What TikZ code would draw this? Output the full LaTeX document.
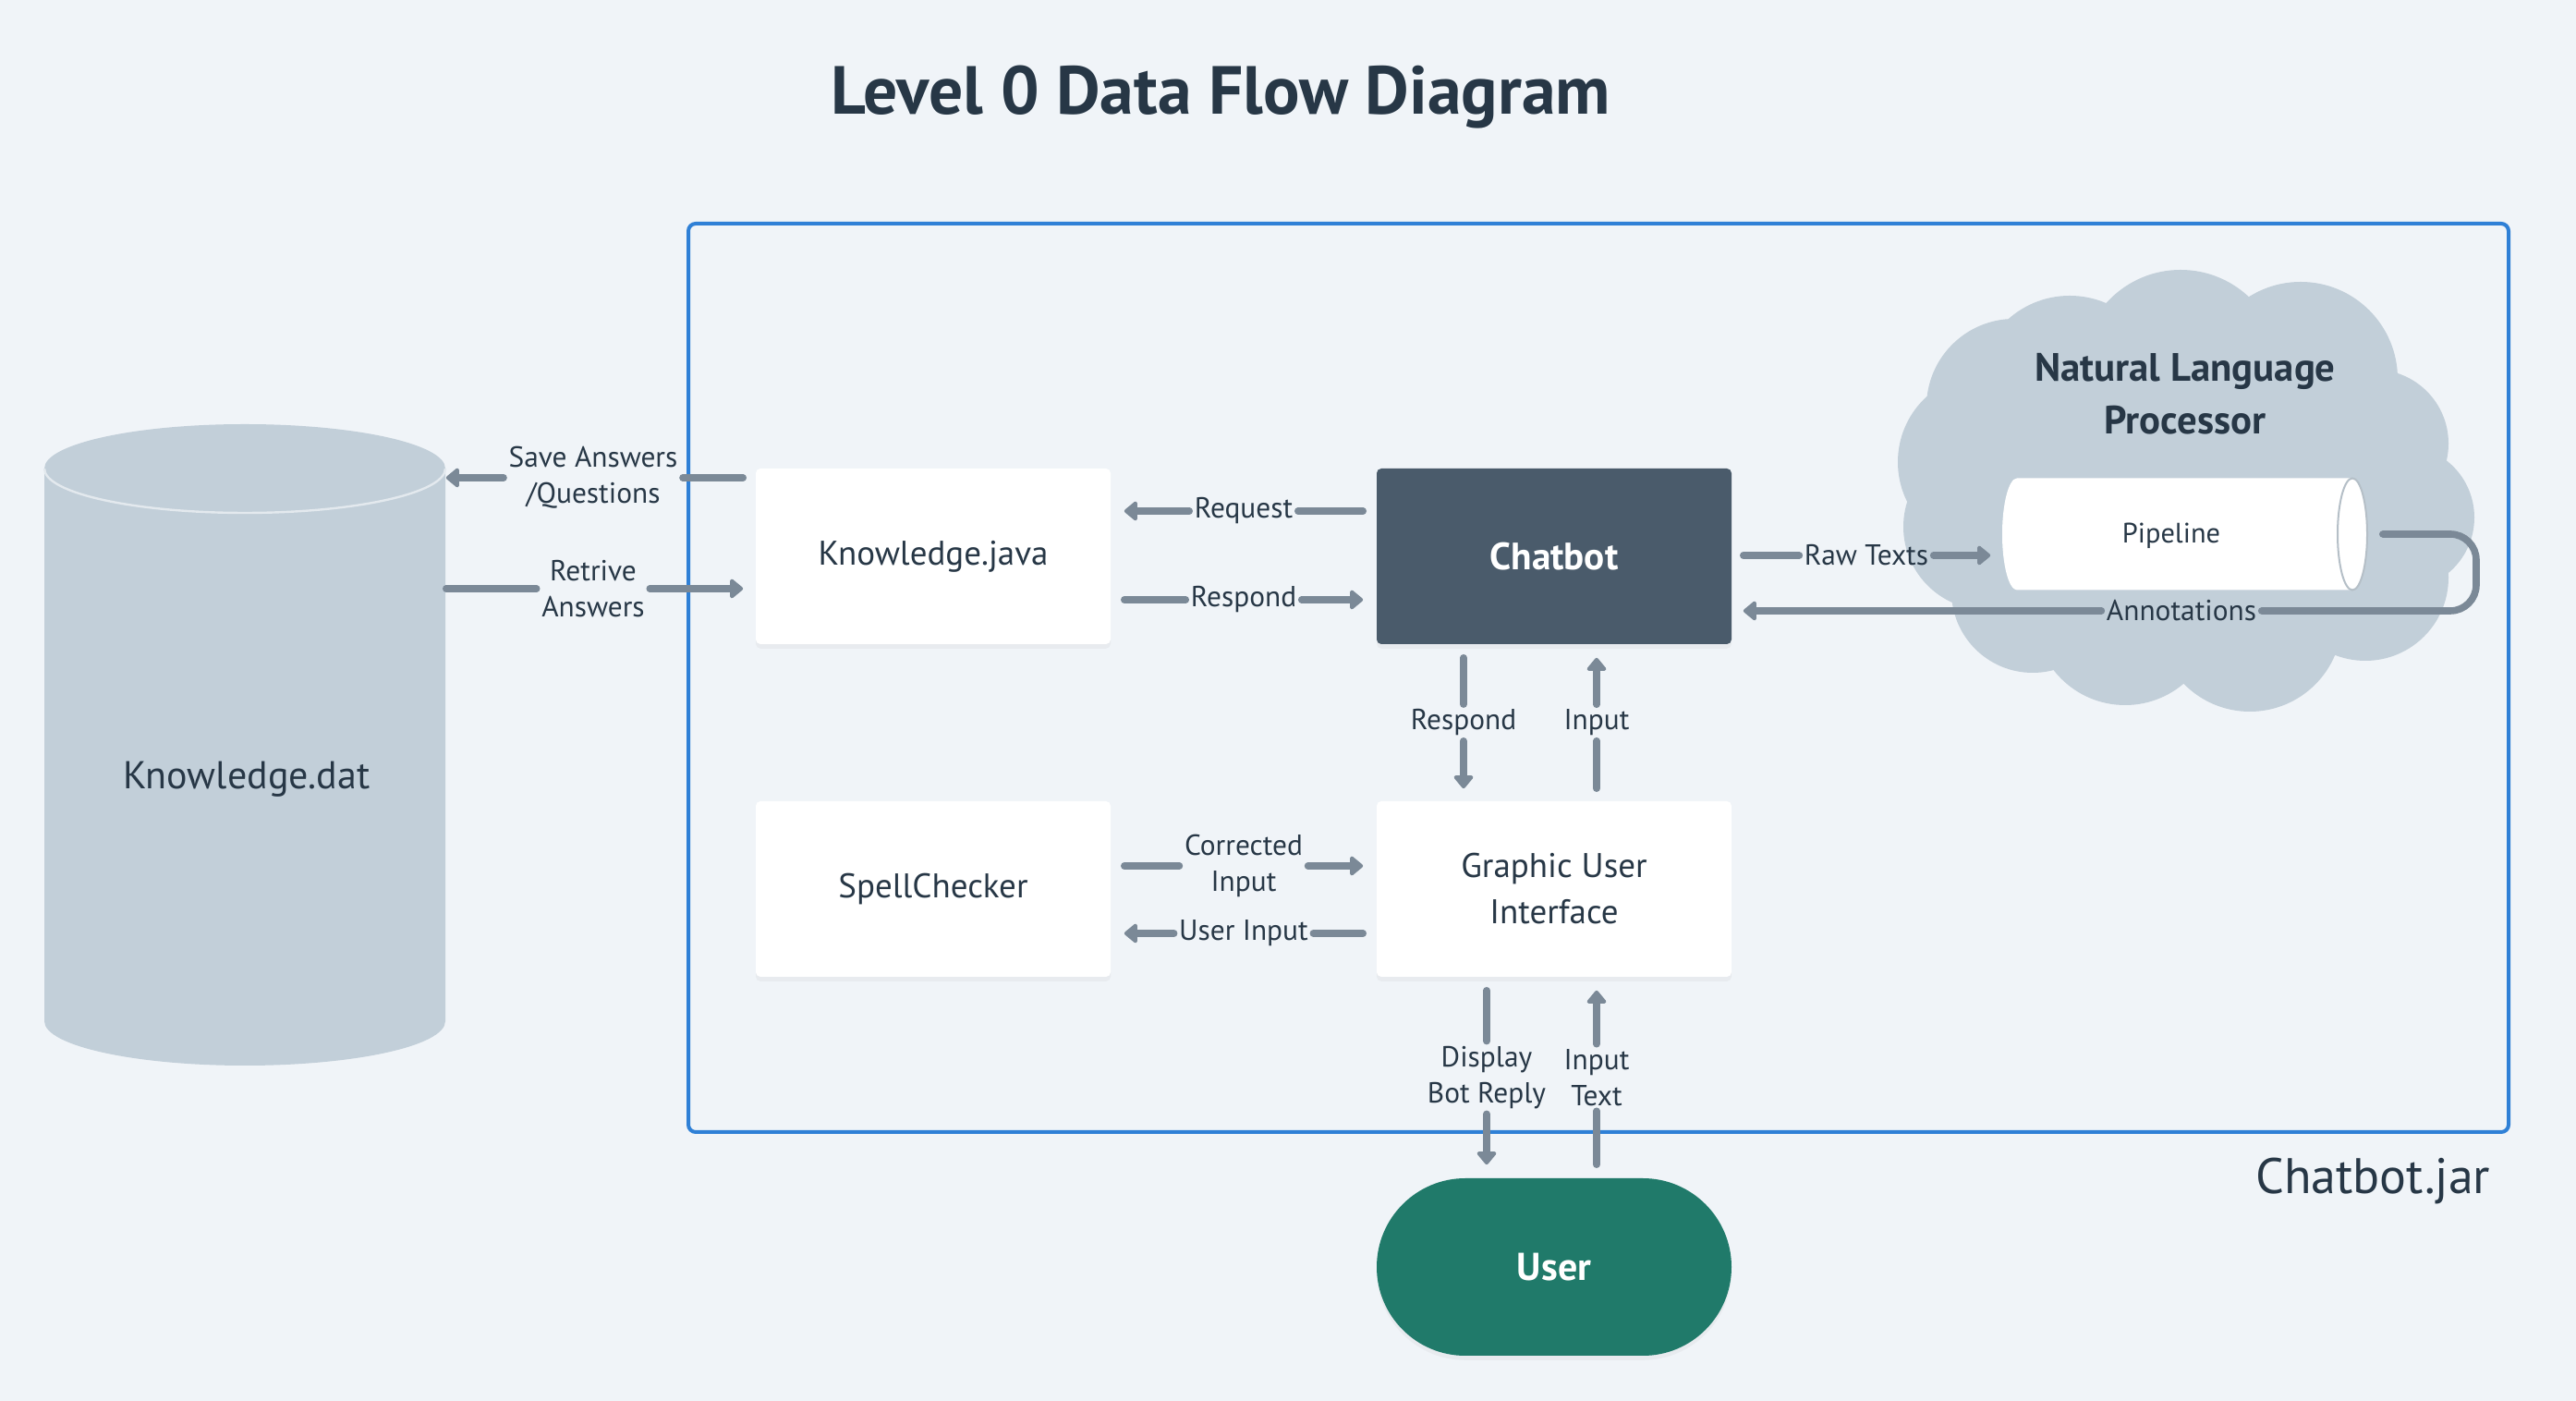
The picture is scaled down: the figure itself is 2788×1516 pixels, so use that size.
\documentclass[tikz,border=0pt]{standalone}
\usepackage{fontspec}
\setmainfont{PT Sans}
\usetikzlibrary{arrows.meta,calc,shadows}
\definecolor{bg}{HTML}{F0F4F8}
\definecolor{ink}{HTML}{273746}
\definecolor{flowc}{HTML}{7B8997}
\definecolor{cylc}{HTML}{C2CFD9}
\definecolor{chatc}{HTML}{4A5B6B}
\definecolor{userc}{HTML}{207A6A}
\definecolor{framec}{HTML}{2F80D6}
\tikzset{
  box/.style={rectangle, rounded corners=1.25pt, minimum width=96pt, minimum height=47.5pt,
    inner sep=0pt, align=center, font=\fontsize{9.25}{12.5}\selectfont, text=ink, fill=white,
    drop shadow={opacity=0.07, shadow xshift=0pt, shadow yshift=-1.2pt}},
  lbl/.style={inner sep=1.2pt, align=center, font=\fontsize{7.85}{9.75}\selectfont, text=ink},
  flowline/.style={draw=flowc, line width=1.9pt, line cap=round},
  flowarrow/.style={flowline, -{Triangle[width=6pt,length=3.8pt,round,line width=1pt]}},
}
\begin{document}
\begin{tikzpicture}[x=0.25pt,y=0.25pt]
\fill[bg] (0,0) rectangle (2788,-1516);
\useasboundingbox (0,0) rectangle (2788,-1516);

% title
\node[anchor=base, inner sep=0pt, font=\fontsize{18.4}{20}\selectfont\bfseries, text=ink] (title) at (1321,-124) {Level 0 Data Flow Diagram};

% frame
\draw[framec, line width=1pt, rounded corners=2pt] (745,-242) rectangle (2715,-1225);
\node[anchor=base east, inner sep=0pt, font=\fontsize{13.5}{15}\selectfont, text=ink] (jar) at (2696,-1292) {Chatbot.jar};

% Knowledge.dat cylinder
\fill[cylc] (48,-507) -- (48,-1105) arc[start angle=180,end angle=360,x radius=54.25pt,y radius=12pt]
  -- (482,-507) arc[start angle=0,end angle=180,x radius=54.25pt,y radius=12pt] -- cycle;
\draw[white!55!cylc, line width=0.6pt] (48,-507) arc[start angle=180,end angle=360,x radius=54.25pt,y radius=12pt];
\node[minimum width=108.5pt, minimum height=173.75pt, inner sep=0pt] (kdat) at (265,-806) {};
\node[font=\fontsize{10.5}{12}\selectfont, text=ink] (kdattxt) at (267,-843) {Knowledge.dat};

% cloud
\fill[cylc]
  (2240,-420) circle[radius=25pt]
  (2360,-400) circle[radius=27pt]
  (2490,-410) circle[radius=26.25pt]
  (2570,-480) circle[radius=20pt]
  (2600,-560) circle[radius=19.5pt]
  (2560,-625) circle[radius=22.5pt]
  (2435,-670) circle[radius=25pt]
  (2300,-665) circle[radius=24.5pt]
  (2200,-640) circle[radius=22pt]
  (2150,-570) circle[radius=22.5pt]
  (2150,-500) circle[radius=24pt]
  (2180,-440) circle[radius=23.75pt]
  (2370,-530) ellipse[x radius=50pt,y radius=40pt];
\node[align=center, font=\fontsize{10.7}{14.25}\selectfont\bfseries, text=ink] (nlp) at (2365,-426) {Natural Language\\Processor};

% pipeline
\fill[white] (2183,-517.5) -- (2546,-517.5) arc[start angle=90,end angle=-90,x radius=4pt,y radius=15.125pt]
  -- (2183,-638.5) arc[start angle=270,end angle=90,x radius=4pt,y radius=15.125pt] -- cycle;
\draw[cylc!80!gray, line width=0.5pt] (2546,-578) ellipse[x radius=4pt,y radius=15.125pt];
\node[minimum width=98.75pt, minimum height=30.25pt, inner sep=0pt] (pipe) at (2364.5,-578) {};
\node[font=\fontsize{7.6}{9}\selectfont, text=ink] (pipetxt) at (2350,-580) {Pipeline};

% boxes
\node[box] (kj) at (1010,-602) {Knowledge.java};
\node[box, fill=chatc, text=white, font=\fontsize{10.3}{12}\selectfont\bfseries] (chat) at (1682,-602) {Chatbot};
\node[box] (spell) at (1010,-962) {SpellChecker};
\node[box] (gui) at (1682,-962) {Graphic User\\Interface};
\node[box, fill=userc, text=white, rounded corners=24pt, minimum height=48pt, font=\fontsize{10.5}{12}\selectfont\bfseries] (user) at (1682,-1371) {User};

% 1 Save Answers
\node[lbl] (l1) at (642,-517) {Save Answers\\/Questions};
\draw[flowline] ($(kj.west)+(-13,85)$) -- (l1.east);
\draw[flowarrow] (l1.west) -- (kdat.east |- l1.west);
% 2 Retrive
\node[lbl] (l2) at (642,-637) {Retrive\\Answers};
\draw[flowline] (kdat.east |- l2.west) -- (l2.west);
\draw[flowarrow] (l2.east) -- ($(kj.west)+(-13,-35)$);
% 3 Request
\node[lbl] (l3) at (1346,-553) {Request};
\draw[flowline] ($(chat.west)+(-14,49)$) -- (l3.east);
\draw[flowarrow] (l3.west) -- ($(kj.east)+(14,49)$);
% 4 Respond
\node[lbl] (l4) at (1346,-649) {Respond};
\draw[flowline] ($(kj.east)+(14,-47)$) -- (l4.west);
\draw[flowarrow] (l4.east) -- ($(chat.west)+(-14,-47)$);
% 5 Raw Texts
\node[lbl] (l5) at (2020,-601) {Raw Texts};
\draw[flowline] ($(chat.east)+(12,1)$) -- (l5.west);
\draw[flowarrow] (l5.east) -- ($(pipe.west)+(-12,-23)$);
% 6 Annotations
\node[lbl] (l6) at (2361,-661) {Annotations};
\draw[flowline, rounded corners=7pt] ($(pipe.east)+(16,0)$) -- (2680,-578) -- (2680,-661) -- (l6.east);
\draw[flowarrow] (l6.west) -- ($(chat.east)+(12,-59)$);
% 7 Respond down
\node[lbl] (l7) at (1584,-782) {Respond};
\draw[flowline] ($(chat.south)+(-98,-14)$) -- (l7.north);
\draw[flowarrow] (l7.south) -- ($(gui.north)+(-98,13)$);
% 8 Input up
\node[lbl] (l8) at (1728,-782) {Input};
\draw[flowline] ($(gui.north)+(46,13)$) -- (l8.south);
\draw[flowarrow] (l8.north) -- ($(chat.south)+(46,-14)$);
% 9 Corrected Input
\node[lbl] (l9) at (1346,-937) {Corrected\\Input};
\draw[flowline] ($(spell.east)+(14,25)$) -- (l9.west);
\draw[flowarrow] (l9.east) -- ($(gui.west)+(-14,25)$);
% 10 User Input
\node[lbl] (l10) at (1346,-1010) {User Input};
\draw[flowline] ($(gui.west)+(-14,-48)$) -- (l10.east);
\draw[flowarrow] (l10.west) -- ($(spell.east)+(14,-48)$);
% 11 Display Bot Reply
\node[lbl] (l11) at (1609,-1166) {Display\\Bot Reply};
\draw[flowline] ($(gui.south)+(-73,-14)$) -- (l11.north);
\draw[flowarrow] (l11.south) -- ($(user.north)+(-73,14)$);
% 12 Input Text
\node[lbl] (l12) at (1728,-1166) {Input\\Text};
\draw[flowline] ($(user.north)+(46,14)$) -- (l12.south);
\draw[flowarrow] (l12.north) -- ($(gui.south)+(46,-14)$);
\end{tikzpicture}
\end{document}
